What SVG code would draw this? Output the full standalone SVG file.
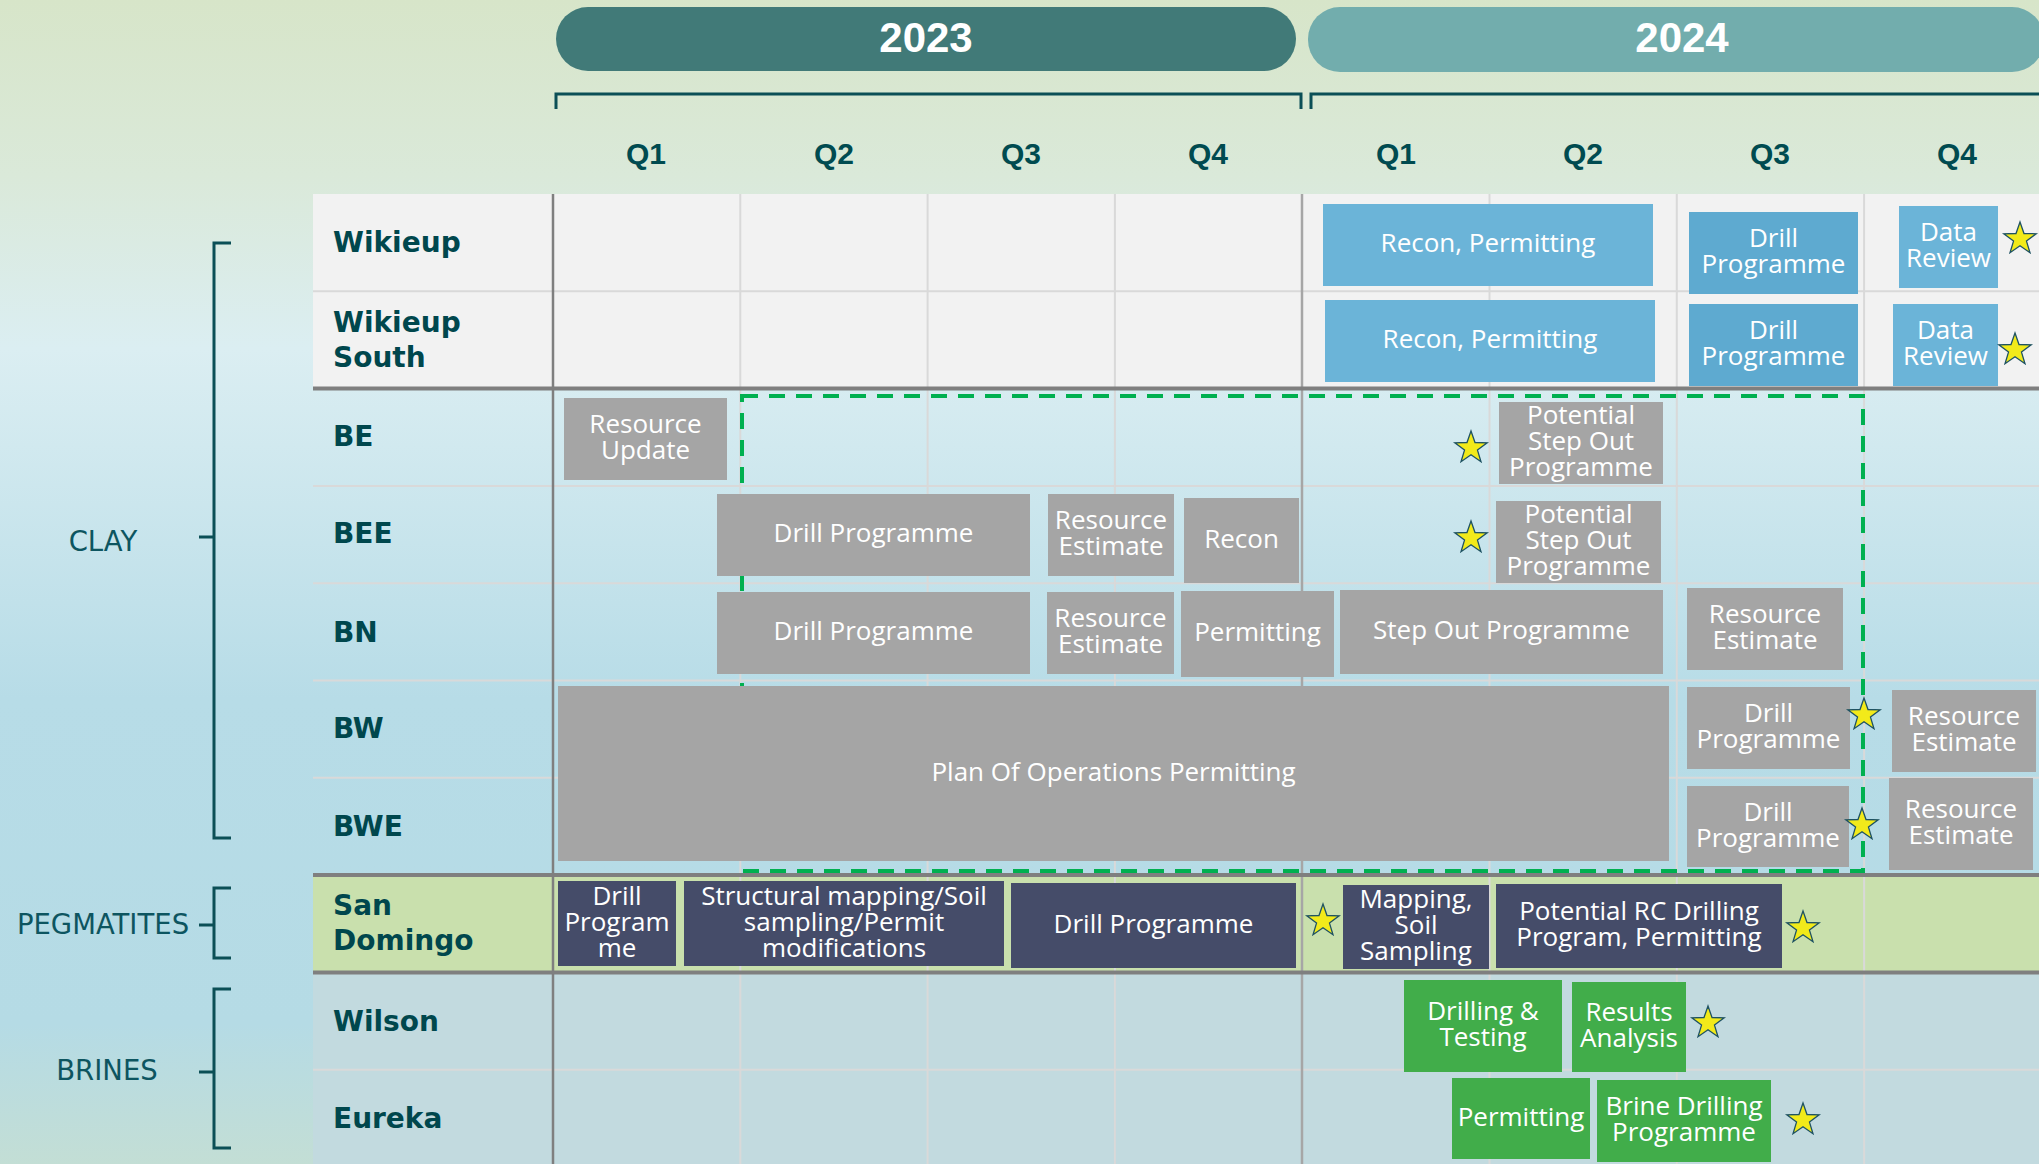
<svg xmlns="http://www.w3.org/2000/svg" width="2039" height="1164" viewBox="0 0 2039 1164">
<defs>
<linearGradient id="bg" x1="0" y1="0" x2="0" y2="1">
<stop offset="0" stop-color="#d7e5c9"/>
<stop offset="0.15" stop-color="#dae9d9"/>
<stop offset="0.3" stop-color="#dbeef2"/>
<stop offset="0.6" stop-color="#b7dce7"/>
<stop offset="0.88" stop-color="#b5dbe5"/>
<stop offset="1" stop-color="#c3ded5"/>
</linearGradient>
<path id="star" d="M0,-17 L4,-5.5 L16.17,-5.25 L6.47,2.1 L9.99,13.75 L0,6.8 L-9.99,13.75 L-6.47,2.1 L-16.17,-5.25 L-4,-5.5 Z"/>
</defs>
<style>
.gb{fill:#a5a5a5}
.bl{fill:#6bb4d8}
.bl2{fill:#5eaad0}
.nv{fill:#454c69}
.gr{fill:#41ad4a}
.t{font-family:"Open Sans","DejaVu Sans",sans-serif;font-size:26px;fill:#ffffff;text-anchor:middle}
.lbl{font-family:"DejaVu Sans",sans-serif;font-weight:bold;font-size:28px;fill:#00474d}
.cat{font-family:"DejaVu Sans",sans-serif;font-size:27.5px;fill:#0d5560;text-anchor:middle}
.q{font-family:"Liberation Sans",Arial,sans-serif;font-weight:bold;font-size:30px;fill:#004b50;text-anchor:middle}
.yr{font-family:"Liberation Sans",Arial,sans-serif;font-weight:bold;font-size:42px;fill:#ffffff;text-anchor:middle}
.st{fill:#f2ea1a;stroke:#1f5363;stroke-width:1.3}
.brk{fill:none;stroke:#0b4f56;stroke-width:3}
.thin{stroke:#d9d9d9;stroke-width:2}
.thick{stroke:#7f7f7f;stroke-width:4}
</style>
<rect x="0" y="0" width="2039" height="1164" fill="url(#bg)"/>

<g id="header">
<rect x="556" y="7" width="740" height="64" rx="32" fill="#417a78"/>
<rect x="1308" y="7" width="736" height="65" rx="32" fill="#72adad"/>
<text class="yr" x="926" y="52">2023</text>
<text class="yr" x="1682" y="52">2024</text>
<path class="brk" d="M556,109 V94 H1301 V109"/>
<path class="brk" d="M1311,109 V94 H2045"/>
<text class="q" x="646" y="164">Q1</text>
<text class="q" x="834" y="164">Q2</text>
<text class="q" x="1021" y="164">Q3</text>
<text class="q" x="1208" y="164">Q4</text>
<text class="q" x="1396" y="164">Q1</text>
<text class="q" x="1583" y="164">Q2</text>
<text class="q" x="1770" y="164">Q3</text>
<text class="q" x="1957" y="164">Q4</text>
</g>

<g id="table">
<rect x="313" y="194" width="1726" height="195" fill="#f2f2f2"/>
<rect x="313" y="875" width="1726" height="97" fill="#c9e0ad"/>
<rect x="313" y="972" width="1726" height="192" fill="#c2dadf"/>
<g class="thin">
<line x1="313" y1="291.3" x2="2039" y2="291.3"/>
<line x1="313" y1="485.9" x2="2039" y2="485.9"/>
<line x1="313" y1="583.2" x2="2039" y2="583.2"/>
<line x1="313" y1="680.5" x2="2039" y2="680.5"/>
<line x1="313" y1="777.8" x2="2039" y2="777.8"/>
<line x1="313" y1="1069.7" x2="2039" y2="1069.7"/>
<line x1="740.3" y1="194" x2="740.3" y2="1164"/>
<line x1="927.6" y1="194" x2="927.6" y2="1164"/>
<line x1="1114.9" y1="194" x2="1114.9" y2="1164"/>
<line x1="1489.5" y1="194" x2="1489.5" y2="1164"/>
<line x1="1676.8" y1="194" x2="1676.8" y2="1164"/>
<line x1="1864.1" y1="194" x2="1864.1" y2="1164"/>
</g>
<line x1="553" y1="194" x2="553" y2="1164" stroke="#7f7f7f" stroke-width="2.5"/>
<line x1="1302" y1="194" x2="1302" y2="1164" stroke="#a6a6a6" stroke-width="2.5"/>
<g class="thick">
<line x1="313" y1="388.6" x2="2039" y2="388.6"/>
<line x1="313" y1="875.1" x2="2039" y2="875.1"/>
<line x1="313" y1="972.4" x2="2039" y2="972.4"/>
</g>
</g>

<g id="categories">
<text class="cat" x="103" y="551">CLAY</text>
<path class="brk" d="M231,243 H214 V838 H231 M199,537 H214"/>
<text class="cat" x="103" y="934">PEGMATITES</text>
<path class="brk" d="M231,888 H214 V958 H231 M199,925 H214"/>
<text class="cat" x="107" y="1080">BRINES</text>
<path class="brk" d="M231,989 H214 V1148 H231 M199,1072 H214"/>
</g>

<g id="row-labels">
<text class="lbl" x="333" y="252">Wikieup</text>
<text class="lbl" x="333" y="332">Wikieup<tspan x="333" dy="35">South</tspan></text>
<text class="lbl" x="333" y="446">BE</text>
<text class="lbl" x="333" y="543">BEE</text>
<text class="lbl" x="333" y="642">BN</text>
<text class="lbl" x="333" y="738">BW</text>
<text class="lbl" x="333" y="836">BWE</text>
<text class="lbl" x="333" y="915">San<tspan x="333" dy="35">Domingo</tspan></text>
<text class="lbl" x="333" y="1031">Wilson</text>
<text class="lbl" x="333" y="1128">Eureka</text>
</g>

<g id="connectors">
<rect id="clay-window" x="742" y="396" width="1121" height="475" fill="none" stroke="#00b050" stroke-width="4" stroke-dasharray="16 11"/>
</g>

<g id="wikieup-recon"><rect class="bl" x="1323" y="204" width="330" height="82"/><text class="t" x="1488" y="252">Recon, Permitting</text></g>
<g id="wikieup-drill"><rect class="bl2" x="1689" y="212" width="169" height="82"/><text class="t" x="1773.5" y="247">Drill<tspan x="1773.5" dy="26">Programme</tspan></text></g>
<g id="wikieup-data"><rect class="bl" x="1899" y="206" width="99" height="82"/><text class="t" x="1948.5" y="241">Data<tspan x="1948.5" dy="26">Review</tspan></text></g>

<g id="ws-recon"><rect class="bl" x="1325" y="300" width="330" height="82"/><text class="t" x="1490" y="348">Recon, Permitting</text></g>
<g id="ws-drill"><rect class="bl2" x="1689" y="304" width="169" height="82"/><text class="t" x="1773.5" y="339">Drill<tspan x="1773.5" dy="26">Programme</tspan></text></g>
<g id="ws-data"><rect class="bl" x="1893" y="304" width="105" height="82"/><text class="t" x="1945.5" y="339">Data<tspan x="1945.5" dy="26">Review</tspan></text></g>

<g id="be-resource"><rect class="gb" x="564" y="398" width="163" height="82"/><text class="t" x="645.5" y="433">Resource<tspan x="645.5" dy="26">Update</tspan></text></g>
<g id="be-stepout"><rect class="gb" x="1499" y="402" width="164" height="82"/><text class="t" x="1581" y="424">Potential<tspan x="1581" dy="26">Step Out</tspan><tspan x="1581" dy="26">Programme</tspan></text></g>

<g id="bee-drill"><rect class="gb" x="717" y="494" width="313" height="82"/><text class="t" x="873.5" y="542">Drill Programme</text></g>
<g id="bee-resource"><rect class="gb" x="1048" y="494" width="126" height="82"/><text class="t" x="1111" y="529">Resource<tspan x="1111" dy="26">Estimate</tspan></text></g>
<g id="bee-recon"><rect class="gb" x="1184" y="498" width="115" height="85"/><text class="t" x="1241.5" y="547.5">Recon</text></g>
<g id="bee-stepout"><rect class="gb" x="1496" y="501" width="165" height="82"/><text class="t" x="1578.5" y="523">Potential<tspan x="1578.5" dy="26">Step Out</tspan><tspan x="1578.5" dy="26">Programme</tspan></text></g>

<g id="bn-drill"><rect class="gb" x="717" y="592" width="313" height="82"/><text class="t" x="873.5" y="640">Drill Programme</text></g>
<g id="bn-resource"><rect class="gb" x="1047" y="592" width="127" height="82"/><text class="t" x="1110.5" y="627">Resource<tspan x="1110.5" dy="26">Estimate</tspan></text></g>
<g id="bn-permitting"><rect class="gb" x="1181" y="591" width="153" height="86"/><text class="t" x="1257.5" y="641">Permitting</text></g>
<g id="bn-stepout"><rect class="gb" x="1340" y="590" width="323" height="84"/><text class="t" x="1501.5" y="639">Step Out Programme</text></g>
<g id="bn-resource2"><rect class="gb" x="1687" y="588" width="156" height="82"/><text class="t" x="1765" y="623">Resource<tspan x="1765" dy="26">Estimate</tspan></text></g>

<g id="plan-of-operations"><rect class="gb" x="558" y="686" width="1111" height="175"/><text class="t" x="1113.5" y="780.5">Plan Of Operations Permitting</text></g>
<g id="bw-drill"><rect class="gb" x="1687" y="687" width="163" height="82"/><text class="t" x="1768.5" y="722">Drill<tspan x="1768.5" dy="26">Programme</tspan></text></g>
<g id="bw-resource"><rect class="gb" x="1892" y="690" width="144" height="82"/><text class="t" x="1964" y="725">Resource<tspan x="1964" dy="26">Estimate</tspan></text></g>
<g id="bwe-drill"><rect class="gb" x="1687" y="786" width="162" height="81"/><text class="t" x="1768" y="820.5">Drill<tspan x="1768" dy="26">Programme</tspan></text></g>
<g id="bwe-resource"><rect class="gb" x="1889" y="778" width="144" height="92"/><text class="t" x="1961" y="818">Resource<tspan x="1961" dy="26">Estimate</tspan></text></g>

<g id="sd-drill1"><rect class="nv" x="558" y="881" width="118" height="85"/><text class="t" x="617" y="904.5">Drill<tspan x="617" dy="26">Program</tspan><tspan x="617" dy="26">me</tspan></text></g>
<g id="sd-structural"><rect class="nv" x="684" y="881" width="320" height="85"/><text class="t" x="844" y="904.5">Structural mapping/Soil<tspan x="844" dy="26">sampling/Permit</tspan><tspan x="844" dy="26">modifications</tspan></text></g>
<g id="sd-drill2"><rect class="nv" x="1011" y="883" width="285" height="85"/><text class="t" x="1153.5" y="932.5">Drill Programme</text></g>
<g id="sd-mapping"><rect class="nv" x="1343" y="885" width="146" height="84"/><text class="t" x="1416" y="908">Mapping,<tspan x="1416" dy="26">Soil</tspan><tspan x="1416" dy="26">Sampling</tspan></text></g>
<g id="sd-rc"><rect class="nv" x="1496" y="884" width="286" height="84"/><text class="t" x="1639" y="920">Potential RC Drilling<tspan x="1639" dy="26">Program, Permitting</tspan></text></g>

<g id="wilson-drilling"><rect class="gr" x="1404" y="980" width="158" height="92"/><text class="t" x="1483" y="1020">Drilling &amp;<tspan x="1483" dy="26">Testing</tspan></text></g>
<g id="wilson-results"><rect class="gr" x="1572" y="982" width="114" height="90"/><text class="t" x="1629" y="1021">Results<tspan x="1629" dy="26">Analysis</tspan></text></g>
<g id="eureka-permitting"><rect class="gr" x="1452" y="1078" width="138" height="81"/><text class="t" x="1521" y="1125.5">Permitting</text></g>
<g id="eureka-brine"><rect class="gr" x="1597" y="1080" width="174" height="82"/><text class="t" x="1684" y="1115">Brine Drilling<tspan x="1684" dy="26">Programme</tspan></text></g>

<g id="milestones">
<use href="#star" class="st" x="2020" y="239"/>
<use href="#star" class="st" x="2015" y="350"/>
<use href="#star" class="st" x="1471" y="448"/>
<use href="#star" class="st" x="1471" y="538"/>
<use href="#star" class="st" x="1864" y="715"/>
<use href="#star" class="st" x="1862" y="825"/>
<use href="#star" class="st" x="1323" y="921"/>
<use href="#star" class="st" x="1803" y="928"/>
<use href="#star" class="st" x="1708" y="1023"/>
<use href="#star" class="st" x="1803" y="1120"/>
</g>
</svg>
